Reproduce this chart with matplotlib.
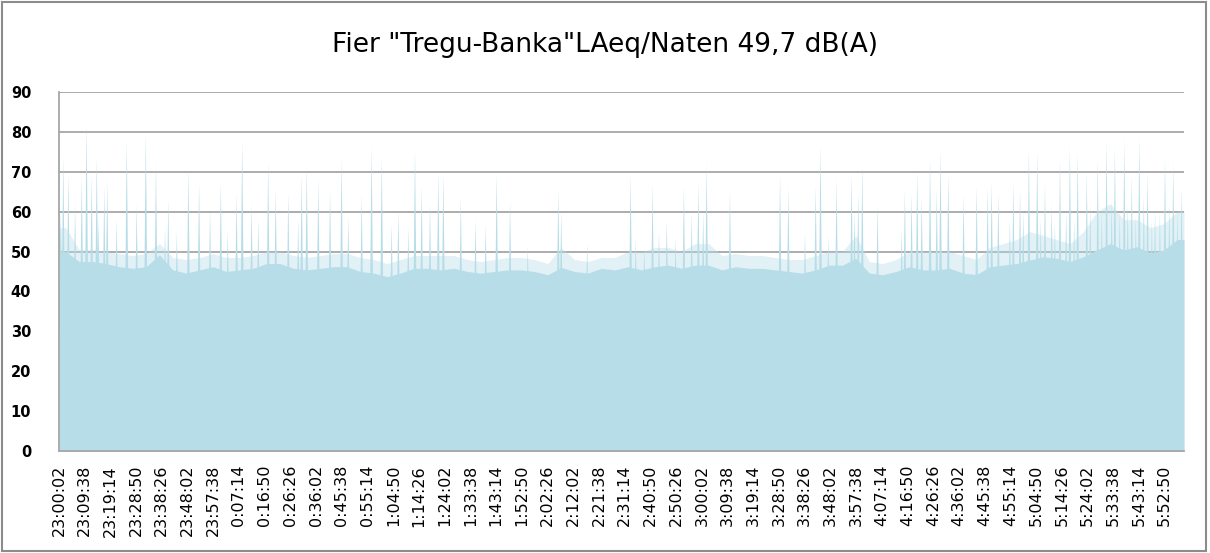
import numpy as np
import matplotlib.pyplot as plt
from matplotlib.patches import Rectangle
from matplotlib.collections import PolyCollection

# Night-time noise record, Fier "Tregu-Banka", 23:00:02 - 06:00
title = 'Fier "Tregu-Banka"LAeq/Naten 49,7 dB(A)'

span_s = 25200          # length of the record in seconds
block_s = 300           # levels are given per 5-minute block
tick_step_s = 576       # one category label every 9 min 36 s

# background (continuous) level per 5-minute block, dB(A)
base_db = [
    50.0, 47.5, 47.5, 47.0, 46.2, 45.8, 46.2, 49.2, 45.4, 44.6,
    45.4, 46.2, 45.0, 45.4, 45.8, 47.0, 47.0, 45.8, 45.4, 45.8,
    46.2, 46.2, 45.0, 44.6, 43.7, 44.6, 45.8, 45.8, 45.4, 45.8,
    45.0, 44.6, 45.0, 45.4, 45.4, 45.0, 44.2, 46.0, 45.0, 44.6,
    45.8, 45.4, 46.2, 45.4, 46.2, 46.6, 45.8, 46.6, 46.6, 45.4,
    46.2, 45.8, 45.8, 45.4, 45.0, 44.6, 45.4, 46.6, 46.6, 48.3,
    44.6, 44.2, 45.0, 46.2, 45.4, 45.4, 45.8, 44.6, 44.2, 46.2,
    46.6, 47.0, 47.9, 48.7, 48.3, 47.5, 48.7, 50.4, 52.0, 50.4,
    51.2, 49.6, 50.4, 53.0,
]

# typical upper level of the fluctuations within each block, dB(A)
upper_db = [
    56.0, 50.5, 50.5, 50.0, 49.5, 49.0, 49.5, 52.0, 48.5, 48.0,
    48.5, 49.5, 48.5, 48.5, 49.0, 50.0, 50.0, 49.0, 48.5, 49.0,
    49.5, 49.5, 48.5, 48.0, 47.0, 48.0, 49.0, 49.0, 49.0, 49.0,
    48.0, 47.5, 48.0, 48.5, 48.5, 48.0, 47.0, 51.0, 48.0, 47.5,
    48.5, 48.5, 50.0, 50.0, 51.0, 51.0, 50.0, 52.0, 52.0, 49.0,
    49.5, 49.0, 49.0, 48.5, 48.0, 48.0, 49.0, 50.0, 50.0, 54.0,
    47.5, 47.0, 48.0, 50.0, 50.0, 50.0, 50.0, 49.0, 48.0, 51.0,
    52.0, 53.0, 55.0, 54.0, 53.0, 52.0, 55.0, 60.0, 62.0, 58.0,
    58.0, 56.0, 57.0, 60.0,
]

# short noise events: minutes after 23:00:02 and peak level, dB(A)
spike_min = [
    0.6, 1.6, 3.5, 6.0, 8.5, 10.3, 12.2, 14.1, 14.7, 16.9, 18.0, 21.5,
    25.3, 29.0, 32.4, 36.2, 39.6, 40.8, 44.0, 48.3, 52.3, 56.4, 60.4,
    63.0, 66.3, 68.4, 71.9, 74.4, 78.1, 80.9, 85.6, 89.3, 90.6, 92.5,
    96.8, 101.2, 105.5, 108.0, 113.0, 116.7, 120.5, 124.2, 126.7,
    130.4, 132.9, 135.4, 138.5,
    141.6, 143.5, 150.0, 155.5, 159.3, 163.4, 168.4, 175.0, 186.4,
    187.5, 197.2, 213.4, 215.3, 218.5, 221.6, 224.0, 226.9, 230.2,
    233.3, 236.2, 238.7, 240.5, 241.8, 250.5, 269.2, 272.3, 278.5,
    282.5, 284.3, 287.2, 290.3, 295.9, 297.0, 298.4, 299.9, 305.6,
    314.6, 315.8, 318.3, 320.4, 322.1, 325.2, 327.7, 329.1, 332.0,
    337.7, 342.6, 346.7, 348.2, 350.7, 355.0, 356.3, 358.8, 360.0,
    362.1, 365.2, 366.5, 368.1, 370.6, 371.8, 373.7, 376.0, 377.4,
    379.0, 380.3, 383.7, 385.0, 387.8, 389.3, 391.1, 393.0, 394.2,
    396.0, 397.7, 399.0, 400.5, 402.0, 403.3, 405.0, 406.4, 408.0,
    409.2, 411.0, 412.9, 414.5, 416.0, 417.5, 419.1,
]
spike_db = [
    60.0, 73.8, 69.6, 62.0, 68.8, 82.2, 69.2, 73.8, 58.0, 66.3, 67.5, 58.0,
    78.0, 62.0, 79.7, 72.0, 56.0, 63.0, 55.0, 70.9, 67.0, 60.4, 67.5,
    55.0, 64.6, 78.0, 62.0, 58.0, 72.6, 65.5, 64.6, 58.0, 69.2, 71.3,
    68.0, 65.5, 73.4, 58.8, 64.2, 76.3, 73.8, 57.0, 60.4,
    56.0, 75.5, 66.3, 62.0,
    70.0, 69.6, 63.4, 57.9, 56.7, 69.6, 62.5, 51.3, 65.5,
    60.0, 52.0, 69.2, 53.0, 51.3, 66.7, 55.0, 57.9, 53.3,
    66.3, 59.6, 67.5, 60.0, 72.1, 65.0, 69.2, 65.9, 54.6,
    66.3, 76.7, 53.8, 68.0, 69.6, 60.0, 64.6, 71.7, 61.7,
    55.4, 65.5, 64.6, 70.5, 63.8, 73.0, 65.5, 75.5, 69.6,
    64.2, 66.3, 65.9, 67.5, 64.6, 58.0, 67.5, 65.5, 60.0,
    75.5, 75.1, 58.0, 67.1, 62.0, 57.0, 73.0, 60.0, 76.3,
    58.0, 74.6, 70.0, 62.0, 73.0, 60.0, 78.0, 63.0, 76.3,
    60.0, 78.0, 62.0, 68.8, 59.0, 78.8, 64.0, 70.0, 58.0,
    60.4, 60.0, 73.4, 62.0, 72.1, 60.0, 65.9,
]

tick_labels = [
    "23:00:02", "23:09:38", "23:19:14", "23:28:50", "23:38:26", "23:48:02",
    "23:57:38", "0:07:14", "0:16:50", "0:26:26", "0:36:02", "0:45:38",
    "0:55:14", "1:04:50", "1:14:26", "1:24:02", "1:33:38", "1:43:14",
    "1:52:50", "2:02:26", "2:12:02", "2:21:38", "2:31:14", "2:40:50",
    "2:50:26", "3:00:02", "3:09:38", "3:19:14", "3:28:50", "3:38:26",
    "3:48:02", "3:57:38", "4:07:14", "4:16:50", "4:26:26", "4:36:02",
    "4:45:38", "4:55:14", "5:04:50", "5:14:26", "5:24:02", "5:33:38",
    "5:43:14", "5:52:50",
]

fill_color = "#B7DDE8"
grid_color = "#A6A6A6"

# block levels placed at the middle of each block, held flat to both ends
block_t = (np.arange(len(base_db)) + 0.5) * block_s
t_line = np.concatenate([[0], block_t, [span_s]])
base_line = np.concatenate([[base_db[0]], base_db, [base_db[-1]]])
upper_line = np.concatenate([[upper_db[0]], upper_db, [upper_db[-1]]])

# each event drawn as a narrow peak rising out of the background fill
half_width_s = 42
spike_t = np.array(spike_min) * 60.0
spike_verts = [[(t - half_width_s, 30.0), (t, p), (t + half_width_s, 30.0)]
               for t, p in zip(spike_t, spike_db)]

fig = plt.figure(figsize=(12.1, 5.53), dpi=100)
ax = fig.add_axes([59 / 1210, 1 - 451 / 553, 1125 / 1210, 359 / 553])

ax.fill_between(t_line, upper_line, 0, color=fill_color, alpha=0.4,
                linewidth=0, zorder=2)
ax.fill_between(t_line, base_line, 0, color=fill_color, linewidth=0, zorder=3)
ax.add_collection(PolyCollection(spike_verts, facecolors=fill_color,
                                 edgecolors="none", zorder=3))

ax.set_xlim(0, span_s)
ax.set_ylim(0, 90)
ax.set_yticks(np.arange(0, 91, 10))
ax.yaxis.grid(True, color=grid_color, linewidth=1.3, zorder=0)
ax.set_axisbelow(True)

ax.set_xticks(np.arange(len(tick_labels)) * tick_step_s)
ax.set_xticklabels(tick_labels, rotation=90, fontsize=11.5, va="top", ha="center")
ax.tick_params(axis="x", length=0, pad=10)
ax.tick_params(axis="y", length=0, pad=20, labelsize=10.5)
for lab in ax.get_yticklabels():
    lab.set_fontweight("bold")

for side in ("top", "right"):
    ax.spines[side].set_visible(False)
for side in ("left", "bottom"):
    ax.spines[side].set_color(grid_color)
    ax.spines[side].set_linewidth(1.3)
    ax.spines[side].set_zorder(5)

fig.text(0.5, 1 - 45 / 553, title, ha="center", va="center", fontsize=19)

# chart frame
fig.patches.append(Rectangle((0.002, 0.004), 0.995, 0.992, transform=fig.transFigure,
                             fill=False, edgecolor="#8C8C8C", linewidth=1.5))

fig.savefig("out.png", dpi=100)
